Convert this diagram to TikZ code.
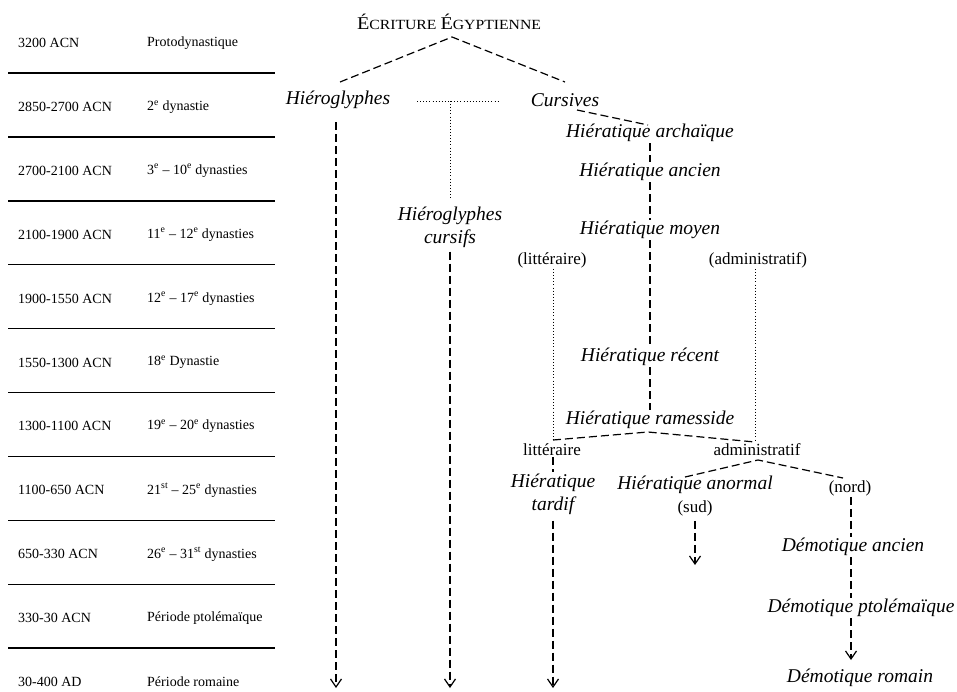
\documentclass[tikz,border=0pt]{standalone}
\usepackage{fontspec}
\usepackage{graphicx}
\setmainfont{Liberation Serif}
\usetikzlibrary{arrows.meta}
\begin{document}
\begin{tikzpicture}[x=1pt,y=-1pt,
  tbl/.style={font=\fontsize{14}{16}\selectfont, anchor=west, inner sep=0pt},
  rule/.style={line width=1.4pt},
  lbl/.style={font=\fontsize{19.5}{23}\selectfont\itshape, inner sep=1pt, align=center},
  rlbl/.style={font=\fontsize{17}{20}\selectfont, inner sep=1pt},
  dline/.style={dash pattern=on 8pt off 4pt, line width=1.2pt},
  dotl/.style={dash pattern=on 0.9pt off 2.2pt, line width=1pt},
  arr/.style={dline, -{Straight Barb[length=8pt,width=11pt,line width=1.2pt]}}]
\useasboundingbox (0,0) rectangle (957,691);
% table
\foreach \d/\p [count=\i from 0] in {
  3200 ACN/Protodynastique,
  2850-2700 ACN/2\textsuperscript{e} dynastie,
  2700-2100 ACN/3\textsuperscript{e} -- 10\textsuperscript{e} dynasties,
  2100-1900 ACN/11\textsuperscript{e} -- 12\textsuperscript{e} dynasties,
  1900-1550 ACN/12\textsuperscript{e} -- 17\textsuperscript{e} dynasties,
  1550-1300 ACN/18\textsuperscript{e} Dynastie,
  1300-1100 ACN/19\textsuperscript{e} -- 20\textsuperscript{e} dynasties,
  1100-650 ACN/21\textsuperscript{st} -- 25\textsuperscript{e} dynasties,
  650-330 ACN/26\textsuperscript{e} -- 31\textsuperscript{st} dynasties,
  330-30 ACN/Période ptolémaïque,
  30-400 AD/Période romaine}{
  \node[tbl] (d\i) at (18,43+63.9*\i) {\d};
  \node[tbl] (p\i) at (147,43+63.9*\i) {\p};
}
\foreach \k in {0,...,9}{
  \draw[rule] (8,73+63.9*\k) -- (275,73+63.9*\k);
}
% tree nodes
\node (title) at (449,22) {\resizebox{184pt}{\height}{\fontsize{18}{20}\selectfont É\fontsize{14}{16}\selectfont CRITURE \fontsize{18}{20}\selectfont É\fontsize{14}{16}\selectfont GYPTIENNE}};
\node[lbl] (hie) at (338,100) {Hiéroglyphes};
\node[lbl] (cur) at (565,100) {Cursives};
\node[lbl] (hiec) at (450,227) {Hiéroglyphes\\[0pt]cursifs};
\node[lbl] (arch) at (650,133) {Hiératique archaïque};
\node[lbl] (anc) at (650,172) {Hiératique ancien};
\node[lbl] (moy) at (650,230) {Hiératique moyen};
\node[rlbl] (plit) at (552,260) {(littéraire)};
\node[rlbl] (padm) at (758,260) {(administratif)};
\node[lbl] (rec) at (650,357) {Hiératique récent};
\node[lbl] (ram) at (650,420) {Hiératique ramesside};
\node[rlbl] (lit) at (552,450) {littéraire};
\node[rlbl] (adm) at (757,450) {administratif};
\node[lbl] (tard) at (553,494) {Hiératique\\[0pt]tardif};
\node[lbl] (anor) at (695,485) {Hiératique anormal};
\node[rlbl] (sud) at (695,508) {(sud)};
\node[rlbl] (nord) at (850,488) {(nord)};
\node[lbl] (dan) at (853,547) {Démotique ancien};
\node[lbl] (dpt) at (861,608) {Démotique ptolémaïque};
\node[lbl] (drom) at (860,678) {Démotique romain};
% named points
\coordinate (tA) at (452,37);
\coordinate (tL) at (340,82);
\coordinate (tR) at (565,82);
\coordinate (hd1) at (417,101);
\coordinate (hd2) at (498,101);
\coordinate (hdT) at (450,101);
\coordinate (hdB) at (450,198);
\coordinate (cA) at (577,110);
\coordinate (cB) at (648,125);
\coordinate (rL) at (553,440);
\coordinate (rA) at (648,432);
\coordinate (rR) at (755,442);
\coordinate (aL) at (685,477);
\coordinate (aA) at (758,460);
\coordinate (aR) at (843,478);
\coordinate (e1) at (336,688);
\coordinate (e2) at (450,688);
\coordinate (e3) at (553,688);
\coordinate (e5) at (695,565);
\coordinate (e4) at (851,660);
\coordinate (s1) at (336,122);
% connectors
\draw[dline] (tL) -- (tA) -- (tR);
\draw[dotl] (hd1) -- (hd2);
\draw[dotl] (hdT) -- (hdB);
\draw[arr] (s1) -- (e1);
\draw[arr] (hiec.south) ++(0,3) -- (e2);
\draw[dline] (cA) -- (cB);
\draw[dline] (arch.south) -- (anc.north);
\draw[dline] (anc.south) -- (moy.north);
\draw[dline] (moy.south) -- (rec.north);
\draw[dline] (rec.south) -- (ram.north);
\draw[dotl] (plit.south -| rL) -- (rL);
\draw[dotl] (padm.south -| rR) -- (rR);
\draw[dline] (rL) -- (rA) -- (rR);
\draw[dline] (lit.south -| rL) -- (tard.north -| rL);
\draw[arr] (tard.south -| e3) ++(0,5) -- (e3);
\draw[dline] (aL) -- (aA) -- (aR);
\draw[arr] (sud.south) ++(0,4) -- (e5);
\draw[dline] (nord.south -| e4) -- (dan.north -| e4);
\draw[dline] (dan.south -| e4) -- (dpt.north -| e4);
\draw[arr] (dpt.south -| e4) -- (e4);
\end{tikzpicture}
\end{document}
